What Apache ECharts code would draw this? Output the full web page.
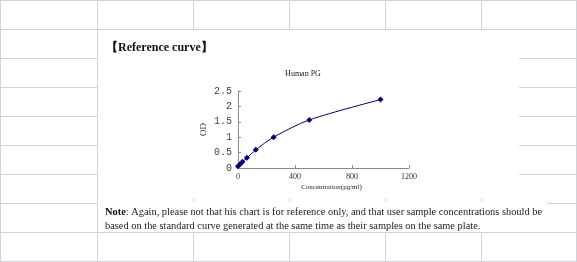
<!DOCTYPE html>
<html>
<head>
<meta charset="utf-8">
<script src="https://cdn.jsdelivr.net/npm/echarts@6/dist/echarts.min.js"></script>
<style>
html,body{margin:0;padding:0;background:#fff;}
#c{width:577px;height:262px;}
</style>
</head>
<body>
<div id="c"></div>
<script>
// Data
const concentrations = [0, 15.6, 31.25, 62.5, 125, 250, 500, 1000];
const odValues = [0.06, 0.13, 0.20, 0.33, 0.59, 1.00, 1.56, 2.22];
const xTicks = [0, 400, 800, 1200];
const yTicks = [0, 0.5, 1, 1.5, 2, 2.5];
const headingText = '【Reference curve】';
const chartTitle = 'Human PG';
const xName = 'Concentration(pg/ml)';
const yName = 'OD';
const noteLine1 = 'Again, please not that his chart is for reference only, and that user sample concentrations should be';
const noteLine2 = 'based on the standard curve generated at the same time as their samples on the same plate.';

const chart = echarts.init(document.getElementById('c'), null, {renderer: 'canvas'});

// Background spreadsheet grid (decorative)
const gridColor = '#cfd2db';
const bg = [];
const colXs = [97, 193, 289, 385, 481, 576];
const rowYs = [29, 58, 87, 116, 145, 174, 203, 232, 261];
colXs.forEach(x => bg.push({type:'line', z:-20, shape:{x1:x+0.5,y1:0,x2:x+0.5,y2:262}, style:{stroke:gridColor,lineWidth:1}}));
rowYs.forEach(y => bg.push({type:'line', z:-20, shape:{x1:0,y1:y+0.5,x2:577,y2:y+0.5}, style:{stroke:gridColor,lineWidth:1}}));
bg.push({type:'line', z:-20, shape:{x1:0.5,y1:0,x2:0.5,y2:262}, style:{stroke:gridColor,lineWidth:1}});
bg.push({type:'line', z:-20, shape:{x1:0,y1:0.5,x2:577,y2:0.5}, style:{stroke:gridColor,lineWidth:1}});
// white document areas
bg.push({type:'rect', z:-15, shape:{x:98,y:30,width:421,height:168}, style:{fill:'#ffffff'}});
bg.push({type:'rect', z:-15, shape:{x:98,y:202,width:449,height:30}, style:{fill:'#ffffff'}});

const texts = [
  {type:'text', z:10, left:106, top:42, style:{text:headingText, font:'bold 12px "Liberation Serif", serif', fill:'#111'}},
  {type:'text', z:10, x:303, y:74, style:{text:chartTitle, font:'8px "Liberation Serif", serif', fill:'#222', textAlign:'center', textVerticalAlign:'middle'}},
  {type:'text', z:10, x:105, y:212, style:{
    text:'{b|Note}: ' + noteLine1,
    font:'10.4px "Liberation Serif", serif', fill:'#222', textVerticalAlign:'middle',
    rich:{b:{font:'bold 10.4px "Liberation Serif", serif', fill:'#111'}}
  }},
  {type:'text', z:10, x:105, y:226, style:{text:noteLine2, font:'10.4px "Liberation Serif", serif', fill:'#222', textVerticalAlign:'middle'}}
];

chart.setOption({
  animation:false,
  backgroundColor:'transparent',
  graphic: bg.concat(texts),
  grid:{left:238, right:168, top:91, bottom:94, containLabel:false},
  xAxis:{
    type:'value', min:0, max:1200, interval:400,
    axisLine:{show:true, lineStyle:{color:'#8a8a8a', width:1}},
    axisTick:{show:true, inside:true, length:3, lineStyle:{color:'#8a8a8a'}},
    splitLine:{show:false},
    axisLabel:{fontSize:8, color:'#333', fontFamily:'"Liberation Serif", serif', margin:5,
      formatter:v => xTicks.includes(v) ? String(v) : ''},
    name:xName, nameLocation:'middle', nameGap:16,
    nameTextStyle:{fontSize:7, color:'#222', fontFamily:'"Liberation Serif", serif', padding:[0,0,0,16]}
  },
  yAxis:{
    type:'value', min:0, max:2.5, interval:0.5,
    axisLine:{show:true, lineStyle:{color:'#8a8a8a', width:1}},
    axisTick:{show:true, inside:true, length:3, lineStyle:{color:'#8a8a8a'}},
    splitLine:{show:false},
    axisLabel:{fontSize:10, color:'#444', fontFamily:'"Liberation Mono", monospace', margin:6,
      formatter:v => yTicks.includes(v) ? String(v) : ''},
    name:yName, nameLocation:'middle', nameGap:30, nameRotate:90,
    nameTextStyle:{fontSize:9, color:'#333', fontFamily:'"Liberation Serif", serif'}
  },
  series:[{
    type:'line', smooth:0.3,
    data: concentrations.map((c,i)=>[c, odValues[i]]),
    symbol:'diamond', symbolSize:6,
    lineStyle:{color:'#000080', width:1},
    itemStyle:{color:'#000080'}
  }]
});
</script>
</body>
</html>
